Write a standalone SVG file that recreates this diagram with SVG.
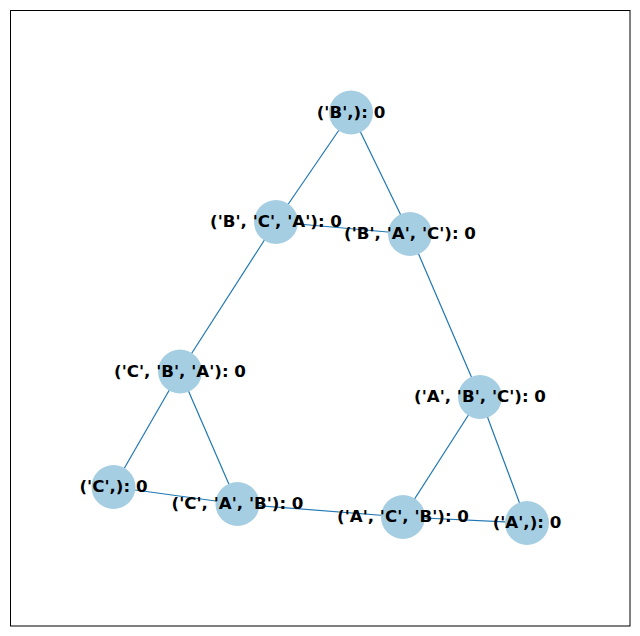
<svg xmlns="http://www.w3.org/2000/svg" width="640" height="636" viewBox="0 0 640 636">
<style>
.e{stroke:#1f77b4;stroke-width:1.2;fill:none}
.n circle{fill:#a6cee3}
.n text{font-family:"DejaVu Sans",sans-serif;font-weight:bold;font-size:16.67px;fill:#000;text-anchor:middle;dominant-baseline:central}
</style>
<rect x="0" y="0" width="640" height="636" fill="#fff"/>
<rect x="10.5" y="10.5" width="619.5" height="615.5" fill="none" stroke="#000" stroke-width="1"/>
<g id="edges">
<line class="e" x1="351" y1="112.5" x2="276" y2="222"/>
<line class="e" x1="351" y1="112.5" x2="410" y2="234"/>
<line class="e" x1="276" y1="222" x2="410" y2="234"/>
<line class="e" x1="276" y1="222" x2="180" y2="371.5"/>
<line class="e" x1="410" y1="234" x2="480" y2="397"/>
<line class="e" x1="180" y1="371.5" x2="113.5" y2="487"/>
<line class="e" x1="180" y1="371.5" x2="237.5" y2="504"/>
<line class="e" x1="113.5" y1="487" x2="237.5" y2="504"/>
<line class="e" x1="237.5" y1="504" x2="403" y2="517"/>
<line class="e" x1="403" y1="517" x2="480" y2="397"/>
<line class="e" x1="403" y1="517" x2="527" y2="523"/>
<line class="e" x1="480" y1="397" x2="527" y2="523"/>
</g>
<g id="n_B" class="n"><circle cx="351" cy="112.5" r="22"/><text x="351" y="112">('B',): 0</text></g>
<g id="n_BCA" class="n"><circle cx="276" cy="222" r="22"/><text x="276" y="221.5">('B', 'C', 'A'): 0</text></g>
<g id="n_BAC" class="n"><circle cx="410" cy="234" r="22"/><text x="410" y="233.5">('B', 'A', 'C'): 0</text></g>
<g id="n_CBA" class="n"><circle cx="180" cy="371.5" r="22"/><text x="180" y="371">('C', 'B', 'A'): 0</text></g>
<g id="n_ABC" class="n"><circle cx="480" cy="397" r="22"/><text x="480" y="396.5">('A', 'B', 'C'): 0</text></g>
<g id="n_C" class="n"><circle cx="113.5" cy="487" r="22"/><text x="113.5" y="486.5">('C',): 0</text></g>
<g id="n_CAB" class="n"><circle cx="237.5" cy="504" r="22"/><text x="237.5" y="503.5">('C', 'A', 'B'): 0</text></g>
<g id="n_ACB" class="n"><circle cx="403" cy="517" r="22"/><text x="403" y="516.5">('A', 'C', 'B'): 0</text></g>
<g id="n_A" class="n"><circle cx="527" cy="523" r="22"/><text x="527" y="522.5">('A',): 0</text></g>
</svg>
